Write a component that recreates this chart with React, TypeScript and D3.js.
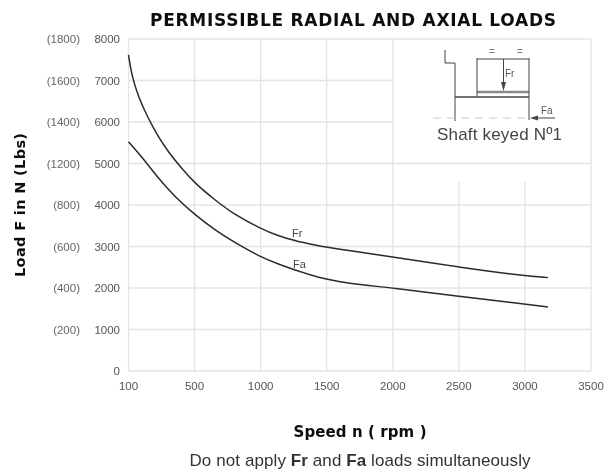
import React from 'react';
import * as d3 from 'd3';

const speedTicks = [100, 500, 1000, 1500, 2000, 2500, 3000, 3500];
const loadTicks = [0, 1000, 2000, 3000, 4000, 5000, 6000, 7000, 8000];
const lbsTicks = ['(200)', '(400)', '(600)', '(800)', '(1200)', '(1400)', '(1600)', '(1800)'];
const fullGridSpeeds = [500, 1000, 1500, 2000, 3500];
const shortGridSpeeds = [2500, 3000];
const shortGridLoads = [6000, 7000];
const fullGridLoads = [1000, 2000, 3000, 4000, 5000, 8000];

const frSpeed = [100, 100, 119, 159, 219, 280, 340, 421, 503, 654, 805, 995, 1134, 1260, 1462, 1638, 2000, 2500, 3000, 3174, 3174];
const frLoad = [7615, 7615, 7130, 6610, 6090, 5645, 5285, 4885, 4520, 4120, 3760, 3440, 3250, 3140, 2995, 2915, 2750, 2500, 2290, 2250, 2250];
const faSpeed = [100, 100, 180, 280, 381, 503, 654, 805, 995, 1131, 1260, 1434, 1638, 2000, 2500, 3000, 3174, 3174];
const faLoad = [5525, 5525, 5165, 4645, 4200, 3760, 3400, 3090, 2755, 2580, 2435, 2250, 2120, 2000, 1800, 1610, 1540, 1540];

const W = 612;
const H = 471;

// the speed axis is not uniform: 100-500 takes the same room as 500-1000
const xPos = d3.scalePoint<number>().domain(speedTicks).range([128.5, 591]);
const x = d3.scaleLinear().domain(speedTicks).range(speedTicks.map(s => xPos(s) as number));
const y = d3.scaleLinear().domain([0, 8000]).range([371, 39]);

const curve = d3.line<number>().curve(d3.curveBasis);

function path(speeds: number[], loads: number[]) {
  return curve.x(s => x(s)).y((_, i) => y(loads[i]))(speeds) as string;
}

const sans = "'Liberation Sans', Arial, sans-serif";
const wide = "'DejaVu Sans', sans-serif";
const gridColor = '#e4e4e4';
const tickColor = '#555';

export default function App() {
  return (
    <svg width={W} height={H} viewBox={`0 0 ${W} ${H}`}
      style={{ position: 'absolute', left: 0, top: 0, fontFamily: sans }}>
      <defs>
        <filter id="soft" x="-5%" y="-5%" width="110%" height="110%"><feGaussianBlur stdDeviation="0.5" /></filter>
      </defs>
      <g filter="url(#soft)">
        {/* grid */}
        <g stroke={gridColor} strokeWidth={1.3}>
          {fullGridLoads.map(v => (
            <line key={v} x1={x(100)} x2={x(3500)} y1={y(v)} y2={y(v)} />
          ))}
          {shortGridLoads.map(v => (
            <line key={v} x1={x(100)} x2={x(2000)} y1={y(v)} y2={y(v)} />
          ))}
          <line x1={x(100)} x2={x(3500)} y1={y(0)} y2={y(0)} />
          <line x1={x(100)} x2={x(100)} y1={y(0)} y2={y(8000)} />
          {fullGridSpeeds.map(v => (
            <line key={v} x1={x(v)} x2={x(v)} y1={y(0)} y2={y(8000)} />
          ))}
          {shortGridSpeeds.map(v => (
            <line key={v} x1={x(v)} x2={x(v)} y1={y(0)} y2={182} />
          ))}
        </g>

        {/* curves */}
        <path d={path(frSpeed, frLoad)} fill="none" stroke="#2a2a2a" strokeWidth={1.5} />
        <path d={path(faSpeed, faLoad)} fill="none" stroke="#2a2a2a" strokeWidth={1.5} />
        <text x={292} y={237} fontSize={11} fill="#444">Fr</text>
        <text x={293} y={268} fontSize={11} fill="#444">Fa</text>

        {/* axis labels */}
        {speedTicks.map(v => (
          <text key={v} x={x(v)} y={390} fontSize={11.5} fill={tickColor} textAnchor="middle">{v}</text>
        ))}
        {loadTicks.map(v => (
          <text key={v} x={120} y={y(v) + 4} fontSize={11.5} fill={tickColor} textAnchor="end">{v}</text>
        ))}
        {lbsTicks.map((t, i) => (
          <text key={t} x={80} y={y(loadTicks[i + 1]) + 4} fontSize={11.5} fill="#666" textAnchor="end">{t}</text>
        ))}

        <text x={353} y={26} fontFamily={wide} fontSize={17} fontWeight="bold" fill="#111" textAnchor="middle"
          textLength={406}>PERMISSIBLE RADIAL AND AXIAL LOADS</text>
        <text transform="translate(25,205) rotate(-90)" fontFamily={wide} fontSize={14.5} fontWeight="bold" fill="#111" textAnchor="middle"
          textLength={144}>Load F in N (Lbs)</text>
        <text x={360} y={437} fontFamily={wide} fontSize={15} fontWeight="bold" fill="#111" textAnchor="middle"
          textLength={133}>Speed n ( rpm )</text>
        <text x={360} y={466} fontSize={17} fill="#333" textAnchor="middle" textLength={341}>
          Do not apply <tspan fontWeight="bold">Fr</tspan> and <tspan fontWeight="bold">Fa</tspan> loads simultaneously
        </text>

        {/* shaft sketch */}
        <g stroke="#444" fill="none" strokeWidth={1}>
          <path d="M445,50 V63 H455 V121" />
          <line x1={455} x2={529} y1={97} y2={97} strokeWidth={1.5} />
          <line x1={477} x2={529} y1={92} y2={92} stroke="#888" strokeWidth={2.5} />
          <line x1={477} x2={477} y1={58} y2={97} />
          <line x1={529} x2={529} y1={58} y2={120} />
          <line x1={477} x2={529} y1={59} y2={59} />
          <line x1={503.5} x2={503.5} y1={59} y2={90} />
          <line x1={535} x2={555} y1={118} y2={118} />
          <line x1={433} x2={529} y1={118} y2={118} stroke="#ccc" strokeDasharray="8 6" />
          <path d="M501,82 L503.5,91 L506,82 Z" fill="#444" stroke="none" />
          <path d="M530,118 L538,115.5 L538,120.5 Z" fill="#444" stroke="none" />
        </g>
        <text x={492} y={55} fontSize={10} fill="#777" textAnchor="middle">=</text>
        <text x={520} y={55} fontSize={10} fill="#777" textAnchor="middle">=</text>
        <text x={505} y={77} fontSize={10} fill="#555">Fr</text>
        <text x={541} y={114} fontSize={10} fill="#555">Fa</text>
        <text x={499.5} y={140} fontSize={17} fill="#444" textAnchor="middle" textLength={125}>Shaft keyed Nº1</text>
      </g>
    </svg>
  );
}
